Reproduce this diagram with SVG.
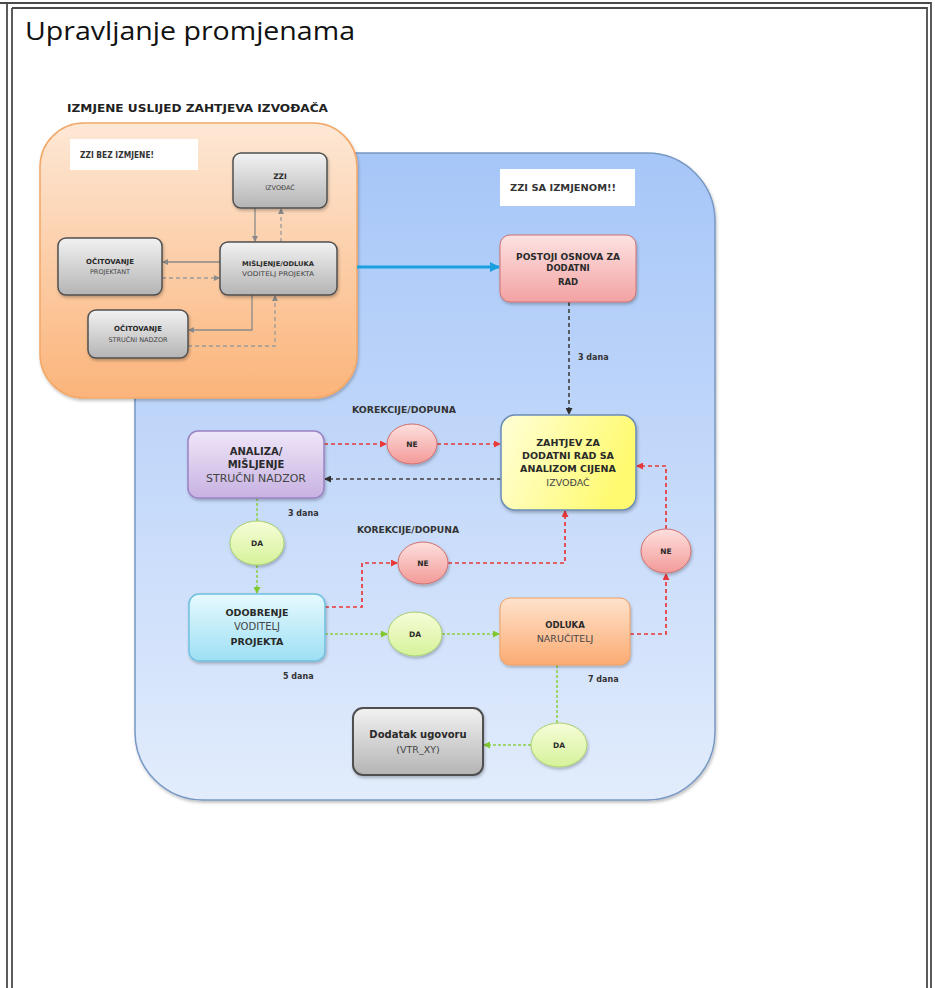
<svg xmlns="http://www.w3.org/2000/svg" width="935" height="988" viewBox="0 0 935 988">
<style>
.t{font-family:"DejaVu Sans","Liberation Sans",sans-serif;font-weight:bold;fill:#2a2a2a;text-anchor:middle}
.n{font-family:"DejaVu Sans","Liberation Sans",sans-serif;fill:#444;text-anchor:middle}
.lbl{font-family:"DejaVu Sans","Liberation Sans",sans-serif;font-weight:bold;fill:#333;font-size:8px}
.gray{stroke:#8a8a8a;stroke-width:1.3;fill:none}
.gd{stroke:#9a9a9a;stroke-width:1.3;fill:none;stroke-dasharray:4 3}
.red{stroke:#e8383a;stroke-width:1.7;fill:none;stroke-dasharray:4 3}
.blk{stroke:#404040;stroke-width:1.6;fill:none;stroke-dasharray:4 3}
.grn{stroke:#8cd040;stroke-width:1.5;fill:none;stroke-dasharray:3 2}
</style>
<defs>
<linearGradient id="gOr" x1="0" y1="0" x2="0" y2="1"><stop offset="0" stop-color="#fde8d6"/><stop offset="1" stop-color="#fbb47a"/></linearGradient>
<linearGradient id="gBl" x1="0" y1="0" x2="0" y2="1"><stop offset="0" stop-color="#a6c6f8"/><stop offset="1" stop-color="#e2ecfc"/></linearGradient>
<linearGradient id="gGy" x1="0" y1="0" x2="0" y2="1"><stop offset="0" stop-color="#f2f2f2"/><stop offset="1" stop-color="#b4b4b4"/></linearGradient>
<linearGradient id="gPk" x1="0" y1="0" x2="0" y2="1"><stop offset="0" stop-color="#fde2e2"/><stop offset="1" stop-color="#f3a2a2"/></linearGradient>
<linearGradient id="gYe" x1="0" y1="0" x2="1" y2="0.3"><stop offset="0" stop-color="#ffffd8"/><stop offset="1" stop-color="#fffa70"/></linearGradient>
<linearGradient id="gPu" x1="0" y1="0" x2="0" y2="1"><stop offset="0" stop-color="#efe6f8"/><stop offset="1" stop-color="#c7b2e2"/></linearGradient>
<linearGradient id="gCy" x1="0" y1="0" x2="0" y2="1"><stop offset="0" stop-color="#e6fafe"/><stop offset="1" stop-color="#9edff4"/></linearGradient>
<linearGradient id="gOn" x1="0" y1="0" x2="0" y2="1"><stop offset="0" stop-color="#fee2cc"/><stop offset="1" stop-color="#fbab72"/></linearGradient>
<linearGradient id="gNe" x1="0" y1="0" x2="0" y2="1"><stop offset="0" stop-color="#fde0de"/><stop offset="1" stop-color="#f39a98"/></linearGradient>
<linearGradient id="gDa" x1="0" y1="0" x2="0" y2="1"><stop offset="0" stop-color="#f6fdd8"/><stop offset="1" stop-color="#d6f29a"/></linearGradient>
<filter id="sh" x="-10%" y="-10%" width="125%" height="130%"><feDropShadow dx="1" dy="2" stdDeviation="1.5" flood-color="#000" flood-opacity="0.25"/></filter>
<marker id="aG" markerWidth="6" markerHeight="6" refX="5" refY="3" orient="auto" markerUnits="userSpaceOnUse"><path d="M0,0 L6,3 L0,6 z" fill="#8a8a8a"/></marker>
<marker id="aR" markerWidth="7" markerHeight="7" refX="6" refY="3.5" orient="auto" markerUnits="userSpaceOnUse"><path d="M0,0 L7,3.5 L0,7 z" fill="#e8383a"/></marker>
<marker id="aK" markerWidth="7" markerHeight="7" refX="6" refY="3.5" orient="auto" markerUnits="userSpaceOnUse"><path d="M0,0 L7,3.5 L0,7 z" fill="#303030"/></marker>
<marker id="aN" markerWidth="7" markerHeight="7" refX="6" refY="3.5" orient="auto" markerUnits="userSpaceOnUse"><path d="M0,0 L7,3.5 L0,7 z" fill="#80c830"/></marker>
<marker id="aB" markerWidth="10" markerHeight="10" refX="9" refY="5" orient="auto" markerUnits="userSpaceOnUse"><path d="M0,0 L10,5 L0,10 z" fill="#1a9fe0"/></marker>
</defs>
<rect width="935" height="988" fill="#fff"/>
<g id="frame" fill="none" stroke="#4a4a4a">
<path d="M0,3 H931 V988" stroke-width="1.8"/>
<path d="M7,3 V988" stroke-width="1.8"/>
<path d="M12,8 H927 V988" stroke-width="1.8"/>
<path d="M12,8 V988" stroke-width="1.8"/>
</g>
<text x="25" y="40" font-family="'Open Sans','Liberation Sans',sans-serif" font-size="26" fill="#111" textLength="330" lengthAdjust="spacingAndGlyphs">Upravljanje promjenama</text>
<text x="67" y="112" font-family="'DejaVu Sans','Liberation Sans',sans-serif" font-weight="bold" font-size="10" fill="#222" textLength="261" lengthAdjust="spacingAndGlyphs">IZMJENE USLIJED ZAHTJEVA IZVOĐAČA</text>

<g id="container-blue"><rect x="135" y="153" width="580" height="647" rx="68" fill="url(#gBl)" stroke="#7898c4" stroke-width="1.5" filter="url(#sh)"/></g>
<g id="container-orange"><rect x="40" y="123" width="317" height="275" rx="44" fill="url(#gOr)" stroke="#f2a868" stroke-width="1.5" filter="url(#sh)"/></g>

<g id="label-bez"><rect x="70" y="139" width="128" height="31" fill="#fff"/><text x="80" y="158" class="lbl" font-size="6.5" textLength="74" lengthAdjust="spacingAndGlyphs">ZZI BEZ IZMJENE!</text></g>
<g id="label-sa"><rect x="500" y="169" width="135" height="37" fill="#fff"/><text x="510" y="191" class="lbl" font-size="8.5" textLength="106" lengthAdjust="spacingAndGlyphs">ZZI SA IZMJENOM!!</text></g>

<g id="connectors">
<line x1="255" y1="208" x2="255" y2="241" class="gray" marker-end="url(#aG)"/>
<line x1="281" y1="242" x2="281" y2="209" class="gd" marker-end="url(#aG)"/>
<line x1="220" y1="262" x2="163" y2="262" class="gray" marker-end="url(#aG)"/>
<line x1="162" y1="278" x2="219" y2="278" class="gd" marker-end="url(#aG)"/>
<path d="M252,295 V330 H189" class="gray" marker-end="url(#aG)"/>
<path d="M188,346 H275 V296" class="gd" marker-end="url(#aG)"/>
<line x1="357" y1="267" x2="499" y2="267" stroke="#1a9fe0" stroke-width="3" marker-end="url(#aB)"/>
<line x1="569" y1="302" x2="569" y2="414" class="blk" marker-end="url(#aK)"/>
<line x1="501" y1="479" x2="325" y2="479" class="blk" marker-end="url(#aK)"/>
<line x1="324" y1="444" x2="386" y2="444" class="red" marker-end="url(#aR)"/>
<line x1="437" y1="444" x2="500" y2="444" class="red" marker-end="url(#aR)"/>
<path d="M325,607 H362 V563 H397" class="red" marker-end="url(#aR)"/>
<path d="M448,563 H565 V511" class="red" marker-end="url(#aR)"/>
<path d="M630,634 H666 V574" class="red" marker-end="url(#aR)"/>
<path d="M666,529 V466 H637" class="red" marker-end="url(#aR)"/>
<line x1="257" y1="498" x2="257" y2="521" class="grn"/>
<line x1="257" y1="565" x2="257" y2="593" class="grn" marker-end="url(#aN)"/>
<line x1="325" y1="634" x2="387" y2="634" class="grn" marker-end="url(#aN)"/>
<line x1="442" y1="634" x2="499" y2="634" class="grn" marker-end="url(#aN)"/>
<line x1="557" y1="665" x2="557" y2="723" class="grn"/>
<line x1="531" y1="745" x2="484" y2="745" class="grn" marker-end="url(#aN)"/>
</g>

<g id="zzi"><rect x="233" y="153" width="94" height="55" rx="8" fill="url(#gGy)" stroke="#505050" stroke-width="1.5" filter="url(#sh)"/><text x="280" y="179" class="t" font-size="7.5">ZZI</text><text x="280" y="190" class="n" font-size="6.5">IZVOĐAČ</text></g>
<g id="misljenje"><rect x="220" y="242" width="117" height="53" rx="8" fill="url(#gGy)" stroke="#505050" stroke-width="1.5" filter="url(#sh)"/><text x="278" y="266" class="t" font-size="6.5" textLength="72" lengthAdjust="spacingAndGlyphs">MIŠLJENJE/ODLUKA</text><text x="278" y="276" class="n" font-size="6.5" textLength="72" lengthAdjust="spacingAndGlyphs">VODITELJ PROJEKTA</text></g>
<g id="ocit-projektant"><rect x="58" y="238" width="104" height="57" rx="8" fill="url(#gGy)" stroke="#505050" stroke-width="1.5" filter="url(#sh)"/><text x="110" y="264" class="t" font-size="7">OČITOVANJE</text><text x="110" y="274" class="n" font-size="6.5">PROJEKTANT</text></g>
<g id="ocit-nadzor"><rect x="88" y="310" width="100" height="48" rx="8" fill="url(#gGy)" stroke="#505050" stroke-width="1.5" filter="url(#sh)"/><text x="138" y="331" class="t" font-size="7">OČITOVANJE</text><text x="138" y="342" class="n" font-size="6.5">STRUČNI NADZOR</text></g>

<g id="postoji"><rect x="500" y="235" width="136" height="67" rx="10" fill="url(#gPk)" stroke="#d07070" stroke-width="1" filter="url(#sh)"/><text x="568" y="260" class="t" font-size="8.5" textLength="104" lengthAdjust="spacingAndGlyphs">POSTOJI OSNOVA ZA</text><text x="568" y="271" class="t" font-size="8.5">DODATNI</text><text x="568" y="285" class="t" font-size="8.5">RAD</text></g>
<text x="578" y="360" class="lbl" font-size="8.5">3 dana</text>

<g id="zahtjev"><rect x="501" y="415" width="135" height="95" rx="14" fill="url(#gYe)" stroke="#6a8cb8" stroke-width="1.5" filter="url(#sh)"/><text x="568" y="446" class="t" font-size="9.5">ZAHTJEV ZA</text><text x="568" y="459" class="t" font-size="9.5">DODATNI RAD SA</text><text x="568" y="472" class="t" font-size="9.5">ANALIZOM CIJENA</text><text x="568" y="486" class="n" font-size="9.5">IZVOĐAČ</text></g>

<g id="analiza"><rect x="188" y="431" width="136" height="67" rx="10" fill="url(#gPu)" stroke="#9a82c2" stroke-width="1.5" filter="url(#sh)"/><text x="256" y="455" class="t" font-size="10">ANALIZA/</text><text x="256" y="468" class="t" font-size="10">MIŠLJENJE</text><text x="256" y="482" class="n" font-size="10.5" textLength="100" lengthAdjust="spacingAndGlyphs">STRUČNI NADZOR</text></g>
<text x="288" y="516" class="lbl" font-size="8.5">3 dana</text>

<text x="352" y="413" class="lbl" font-size="8.5" textLength="104" lengthAdjust="spacingAndGlyphs">KOREKCIJE/DOPUNA</text>
<g id="ne1"><ellipse cx="412" cy="444" rx="25" ry="20" fill="url(#gNe)" stroke="#d07070" stroke-width="1" filter="url(#sh)"/><text x="412" y="447" class="t" font-size="7.5">NE</text></g>

<g id="da1"><ellipse cx="257" cy="543" rx="27" ry="22" fill="url(#gDa)" stroke="#a8d070" stroke-width="1" filter="url(#sh)"/><text x="257" y="546" class="t" font-size="7.5">DA</text></g>

<text x="357" y="533" class="lbl" font-size="8.5" textLength="102" lengthAdjust="spacingAndGlyphs">KOREKCIJE/DOPUNA</text>
<g id="ne2"><ellipse cx="423" cy="563" rx="25" ry="21" fill="url(#gNe)" stroke="#d07070" stroke-width="1" filter="url(#sh)"/><text x="423" y="566" class="t" font-size="7.5">NE</text></g>

<g id="odobrenje"><rect x="189" y="594" width="136" height="67" rx="10" fill="url(#gCy)" stroke="#70c0e0" stroke-width="1.5" filter="url(#sh)"/><text x="257" y="616" class="t" font-size="9.5">ODOBRENJE</text><text x="257" y="630" class="n" font-size="10">VODITELJ</text><text x="257" y="645" class="t" font-size="9.5" fill="#444">PROJEKTA</text></g>
<text x="283" y="679" class="lbl" font-size="8.5">5 dana</text>

<g id="da2"><ellipse cx="415" cy="634" rx="27" ry="22" fill="url(#gDa)" stroke="#a8d070" stroke-width="1" filter="url(#sh)"/><text x="415" y="637" class="t" font-size="7.5">DA</text></g>

<g id="odluka"><rect x="500" y="598" width="130" height="67" rx="10" fill="url(#gOn)" stroke="#f0a060" stroke-width="1" filter="url(#sh)"/><text x="565" y="628" class="t" font-size="8.5">ODLUKA</text><text x="565" y="642" class="n" font-size="9.5">NARUČITELJ</text></g>
<text x="588" y="682" class="lbl" font-size="8.5">7 dana</text>

<g id="ne3"><ellipse cx="666" cy="551" rx="25" ry="22" fill="url(#gNe)" stroke="#d07070" stroke-width="1" filter="url(#sh)"/><text x="666" y="554" class="t" font-size="7.5">NE</text></g>

<g id="da3"><ellipse cx="559" cy="745" rx="28" ry="22" fill="url(#gDa)" stroke="#a8d070" stroke-width="1" filter="url(#sh)"/><text x="559" y="748" class="t" font-size="7.5">DA</text></g>

<g id="dodatak"><rect x="353" y="708" width="130" height="67" rx="10" fill="url(#gGy)" stroke="#505050" stroke-width="2" filter="url(#sh)"/><text x="418" y="738" class="t" font-size="10">Dodatak ugovoru</text><text x="418" y="753" class="n" font-size="9.5">(VTR_XY)</text></g>
</svg>
